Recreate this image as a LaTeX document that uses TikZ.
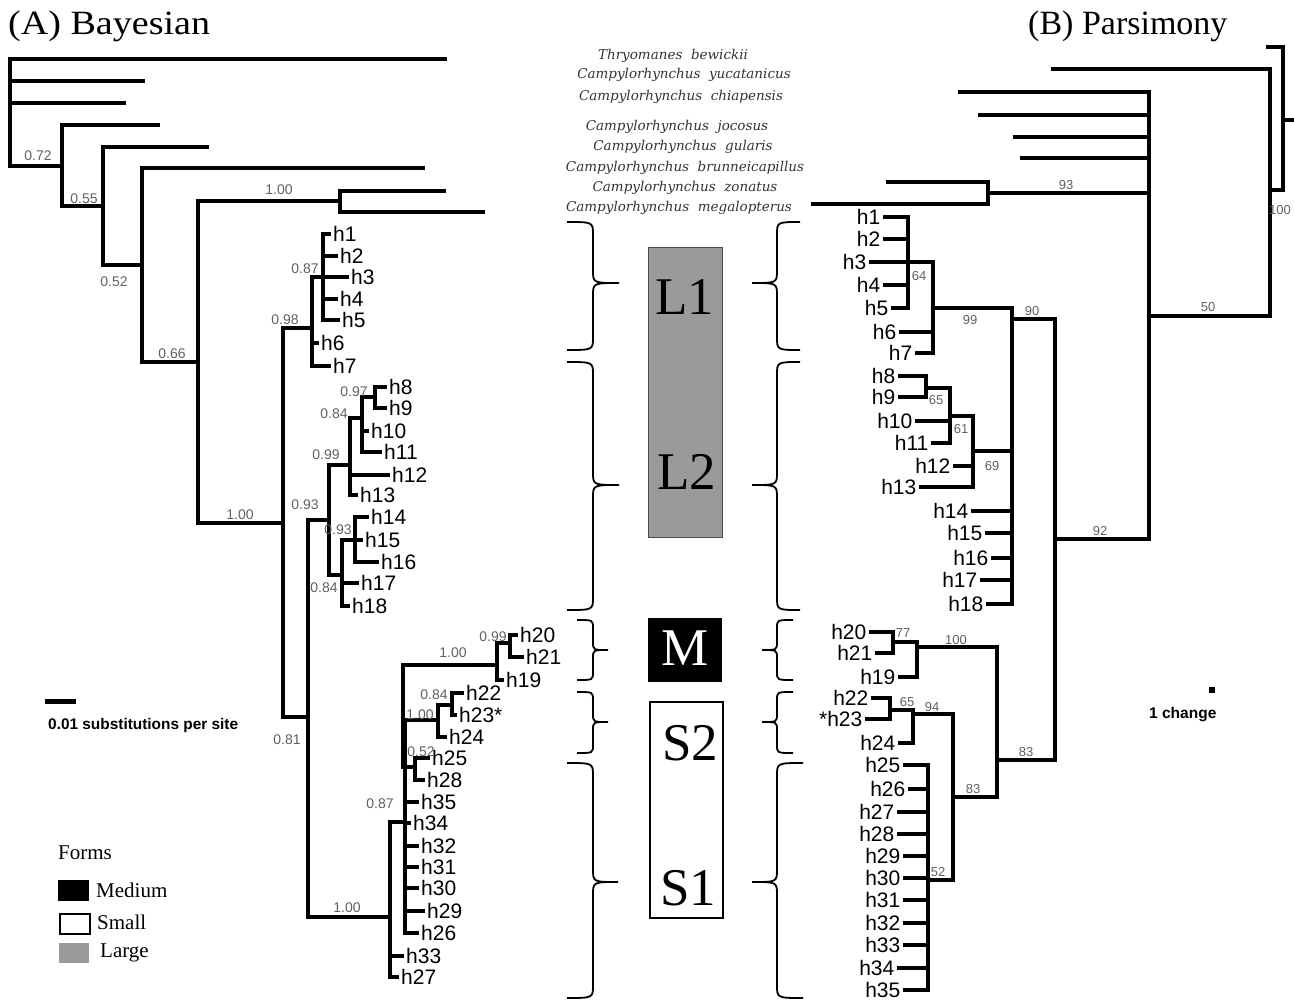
\documentclass[tikz,border=0pt]{standalone}
\usepackage{fontspec}
\setmainfont{Liberation Serif}
\setsansfont{Liberation Sans}
\newfontfamily\spfont{DejaVu Serif}
\definecolor{supgray}{HTML}{606060}
\definecolor{boxgray}{HTML}{9A9A9A}
\definecolor{spgray}{HTML}{333333}
\newcommand{\mybrace}[7]{%
  \draw[bracestyle] (#1,#4) .. controls (#2,#4) .. (#2,{#4+#7}) -- (#2,{#5-#7})
    .. controls (#2,#5) .. (#3,#5) .. controls (#2,#5) .. (#2,{#5+#7})
    -- (#2,{#6-#7}) .. controls (#2,#6) .. (#1,#6);}
\begin{document}
\begin{tikzpicture}[x=1pt,y=-1pt,
  tree/.style={line width=3.4pt, line cap=rect},
  leafA/.style={anchor=west, font=\sffamily\fontsize{21}{21}\selectfont, inner xsep=4pt, inner ysep=0pt},
  leafB/.style={anchor=east, font=\sffamily\fontsize{21}{21}\selectfont, inner xsep=4.5pt, inner ysep=0pt},
  supA/.style={font=\sffamily\fontsize{14}{14}\selectfont, text=supgray, inner sep=0pt},
  supB/.style={font=\sffamily\fontsize{13}{13}\selectfont, text=supgray, inner sep=0pt},
  species/.style={font=\spfont\itshape\fontsize{13.5}{14}\selectfont, text=spgray, inner sep=0pt},
  bigletter/.style={font=\fontsize{53}{53}\selectfont, inner sep=0pt},
  bracestyle/.style={line width=1.8pt},
  legtext/.style={font=\fontsize{21}{21}\selectfont, anchor=west, inner sep=0pt}]
\useasboundingbox (0,0) rectangle (1294,1001);

% titles
\node[anchor=west, font=\fontsize{34}{34}\selectfont, inner sep=0pt] (titleA) at (8,26) {\scalebox{1.12}[1]{(A) Bayesian}};
\node[anchor=west, font=\fontsize{34}{34}\selectfont, inner sep=0pt] (titleB) at (1028,26) {(B) Parsimony};

% ================= LEFT TREE =================
\coordinate (aR) at (10,166);
\coordinate (aT1) at (445,59);
\coordinate (aT2) at (143,81);
\coordinate (aT3) at (124,103);
\coordinate (a72) at (62,166);
\coordinate (aT4) at (158,125);
\coordinate (a55) at (103,206);
\coordinate (aT5) at (207,147);
\coordinate (a52) at (142,265);
\coordinate (aT6) at (423,168);
\coordinate (a66) at (198,362);
\coordinate (aC) at (340,201);
\coordinate (aT7) at (444,191);
\coordinate (aT8) at (483,212);
\coordinate (aI) at (283,523);
\coordinate (a98) at (312,328);
\coordinate (a87) at (323,277);
\coordinate (a81) at (308,717);
\coordinate (a93) at (329,520);
\coordinate (a99) at (350,465);
\coordinate (a84) at (362,418);
\coordinate (a97) at (375,397);
\coordinate (a84b) at (342,575);
\coordinate (a93b) at (355,540);
\coordinate (aMS) at (390,917);
\coordinate (a87s) at (405,822);
\coordinate (a100s) at (403,720);
\coordinate (aM) at (497,665);
\coordinate (a99m) at (510,643);
\coordinate (aS2) at (438,720);
\coordinate (a84s) at (452,705);
\coordinate (a52s) at (415,767);

\node[leafA] (a-h1) at (329,234) {h1};
\node[leafA] (a-h2) at (336,256) {h2};
\node[leafA] (a-h3) at (347,277) {h3};
\node[leafA] (a-h4) at (336,299) {h4};
\node[leafA] (a-h5) at (338,320) {h5};
\node[leafA] (a-h6) at (317,343) {h6};
\node[leafA] (a-h7) at (329,366) {h7};
\node[leafA] (a-h8) at (385,387) {h8};
\node[leafA] (a-h9) at (385,408) {h9};
\node[leafA] (a-h10) at (367,431) {h10};
\node[leafA] (a-h11) at (380,452) {h11};
\node[leafA] (a-h12) at (388,475) {h12};
\node[leafA] (a-h13) at (356,495) {h13};
\node[leafA] (a-h14) at (367,517) {h14};
\node[leafA] (a-h15) at (361,540) {h15};
\node[leafA] (a-h16) at (377,562) {h16};
\node[leafA] (a-h17) at (357,583) {h17};
\node[leafA] (a-h18) at (348,606) {h18};
\node[leafA] (a-h20) at (516,635) {h20};
\node[leafA] (a-h21) at (522,657) {h21};
\node[leafA] (a-h19) at (502,680) {h19};
\node[leafA] (a-h22) at (462,693) {h22};
\node[leafA] (a-h23) at (455,715) {h23*};
\node[leafA] (a-h24) at (445,737) {h24};
\node[leafA] (a-h25) at (428,758) {h25};
\node[leafA] (a-h28) at (423,780) {h28};
\node[leafA] (a-h35) at (417,802) {h35};
\node[leafA] (a-h34) at (409,823) {h34};
\node[leafA] (a-h32) at (417,846) {h32};
\node[leafA] (a-h31) at (417,867) {h31};
\node[leafA] (a-h30) at (417,888) {h30};
\node[leafA] (a-h29) at (423,911) {h29};
\node[leafA] (a-h26) at (417,933) {h26};
\node[leafA] (a-h33) at (402,956) {h33};
\node[leafA] (a-h27) at (397,977) {h27};

\foreach \p/\c in {aR/aT1, aR/aT2, aR/aT3, aR/a72, a72/aT4, a72/a55, a55/aT5, a55/a52,
  a52/aT6, a52/a66, a66/aC, a66/aI, aC/aT7, aC/aT8, aI/a98, aI/a81,
  a98/a87, a98/a-h6.west, a98/a-h7.west,
  a87/a-h1.west, a87/a-h2.west, a87/a-h3.west, a87/a-h4.west, a87/a-h5.west,
  a81/a93, a81/aMS, a93/a99, a93/a84b,
  a99/a84, a99/a-h12.west, a99/a-h13.west,
  a84/a97, a84/a-h10.west, a84/a-h11.west,
  a97/a-h8.west, a97/a-h9.west,
  a84b/a93b, a84b/a-h17.west, a84b/a-h18.west,
  a93b/a-h14.west, a93b/a-h15.west, a93b/a-h16.west,
  aMS/a87s, aMS/a-h33.west, aMS/a-h27.west,
  a87s/a100s, a100s/aM, a100s/aS2, a100s/a52s, a87s/a52s, a87s/a-h35.west, a87s/a-h34.west, a87s/a-h32.west,
  a87s/a-h31.west, a87s/a-h30.west, a87s/a-h29.west, a87s/a-h26.west,
  aM/a99m, aM/a-h19.west, a99m/a-h20.west, a99m/a-h21.west,
  aS2/a84s, aS2/a-h24.west, a84s/a-h22.west, a84s/a-h23.west,
  a52s/a-h25.west, a52s/a-h28.west}
  \draw[tree] (\p) |- (\c);

% left support values
\node[supA] (sa1) at (38,156) {0.72};
\node[supA] (sa2) at (84,199) {0.55};
\node[supA] (sa3) at (114,282) {0.52};
\node[supA] (sa4) at (172,354) {0.66};
\node[supA] (sa5) at (279,190) {1.00};
\node[supA] (sa6) at (240,515) {1.00};
\node[supA] (sa7) at (285,320) {0.98};
\node[supA] (sa8) at (305,269) {0.87};
\node[supA] (sa9) at (305,505) {0.93};
\node[supA] (sa10) at (326,455) {0.99};
\node[supA] (sa11) at (334,414) {0.84};
\node[supA] (sa12) at (354,392) {0.97};
\node[supA] (sa13) at (338,530) {0.93};
\node[supA] (sa14) at (324,588) {0.84};
\node[supA] (sa15) at (287,740) {0.81};
\node[supA] (sa16) at (347,908) {1.00};
\node[supA] (sa17) at (380,804) {0.87};
\node[supA] (sa18) at (453,653) {1.00};
\node[supA] (sa19) at (493,637) {0.99};
\node[supA] (sa20) at (420,715) {1.00};
\node[supA] (sa21) at (434,695) {0.84};
\node[supA] (sa22) at (421,752) {0.52};

% scale bar left
\coordinate (sbA1) at (45,701);
\coordinate (sbA2) at (76,701);
\draw[line width=5pt] (sbA1) -- (sbA2);
\node[anchor=west, font=\sffamily\bfseries\fontsize{15.4}{15.4}\selectfont, inner sep=0pt] (sbAtext) at (48,726) {0.01 substitutions per site};

% legend
\node[legtext] (legtitle) at (58,853) {Forms};
\node[draw=black, fill=black, minimum width=30pt, minimum height=20pt, inner sep=0pt, anchor=north west] (legM) at (58,880) {};
\node[draw=black, line width=1.6pt, fill=white, minimum width=30pt, minimum height=20pt, inner sep=0pt, anchor=north west] (legS) at (59,913) {};
\node[fill=boxgray, minimum width=30pt, minimum height=20pt, inner sep=0pt, anchor=north west] (legL) at (59,943) {};
\node[legtext] (legMt) at (96,890) {Medium};
\node[legtext] (legSt) at (97,922) {Small};
\node[legtext] (legLt) at (100,953) {Large};

% ================= MIDDLE =================
\node[species] (sp1) at (673,56) {Thryomanes\ \ bewickii};
\node[species] (sp2) at (684,75) {Campylorhynchus\ \ yucatanicus};
\node[species] (sp3) at (681,97) {Campylorhynchus\ \ chiapensis};
\node[species] (sp4) at (677,127) {Campylorhynchus\ \ jocosus};
\node[species] (sp5) at (683,147) {Campylorhynchus\ \ gularis};
\node[species] (sp6) at (685,168) {Campylorhynchus\ \ brunneicapillus};
\node[species] (sp7) at (685,188) {Campylorhynchus\ \ zonatus};
\node[species] (sp8) at (679,208) {Campylorhynchus\ \ megalopterus};

\node[draw=black!70, line width=0.8pt, fill=boxgray, minimum width=74pt, minimum height=290pt, inner sep=0pt] (boxL) at (685,392) {};
\node[fill=black, minimum width=74pt, minimum height=64pt, inner sep=0pt] (boxM) at (685,650) {};
\node[draw=black, line width=1.2pt, fill=white, minimum width=73pt, minimum height=216pt, inner sep=0pt] (boxS) at (686.5,810) {};
\node[bigletter] (tL1) at (685,297) {L1};
\node[bigletter] (tL2) at (687,472) {L2};
\node[bigletter, text=white] (tM) at (685,648) {M};
\node[bigletter] (tS2) at (690,743) {S2};
\node[bigletter] (tS1) at (688,888) {S1};

% braces left (})
\mybrace{567}{593}{619}{222}{283}{350}{13}
\mybrace{567}{593}{619}{362}{485}{610}{13}
\mybrace{577}{593}{608}{620}{650}{680}{8}
\mybrace{577}{593}{608}{692}{722}{753}{8}
\mybrace{567}{593}{618}{763}{882}{998}{13}
% braces right ({)
\mybrace{800}{777}{752}{222}{283}{350}{13}
\mybrace{800}{777}{752}{362}{485}{610}{13}
\mybrace{793}{777}{762}{620}{650}{680}{8}
\mybrace{793}{777}{762}{692}{722}{753}{8}
\mybrace{803}{777}{752}{763}{882}{998}{13}

% ================= RIGHT TREE =================
\coordinate (bRt) at (1283,120);
\coordinate (bStub) at (1294,120);
\coordinate (bT0) at (1268,47);
\coordinate (b100) at (1270,190);
\coordinate (bT1) at (1053,69);
\coordinate (b50) at (1149,316);
\coordinate (bT2) at (960,92);
\coordinate (bT3) at (980,115);
\coordinate (bT4) at (1015,137);
\coordinate (bT5) at (1022,158);
\coordinate (b93) at (988,193);
\coordinate (bT6) at (888,182);
\coordinate (bT7) at (813,204);
\coordinate (b92) at (1055,539);
\coordinate (b90) at (1012,319);
\coordinate (b99) at (933,308);
\coordinate (b64) at (908,262);
\coordinate (b69) at (973,451);
\coordinate (b61) at (950,416);
\coordinate (b65) at (926,388);
\coordinate (b83a) at (997,760);
\coordinate (b100b) at (917,647);
\coordinate (b77) at (893,642);
\coordinate (b83b) at (953,797);
\coordinate (b94) at (913,714);
\coordinate (b65b) at (890,710);
\coordinate (b52) at (928,880);

\node[leafB] (b-h1) at (885,217) {h1};
\node[leafB] (b-h2) at (885,239) {h2};
\node[leafB] (b-h3) at (871,262) {h3};
\node[leafB] (b-h4) at (885,285) {h4};
\node[leafB] (b-h5) at (893,308) {h5};
\node[leafB] (b-h6) at (901,332) {h6};
\node[leafB] (b-h7) at (917,353) {h7};
\node[leafB] (b-h8) at (900,376) {h8};
\node[leafB] (b-h9) at (900,397) {h9};
\node[leafB] (b-h10) at (917,421) {h10};
\node[leafB] (b-h11) at (933,443) {h11};
\node[leafB] (b-h12) at (955,466) {h12};
\node[leafB] (b-h13) at (921,487) {h13};
\node[leafB] (b-h14) at (973,511) {h14};
\node[leafB] (b-h15) at (987,533) {h15};
\node[leafB] (b-h16) at (993,558) {h16};
\node[leafB] (b-h17) at (982,580) {h17};
\node[leafB] (b-h18) at (988,604) {h18};
\node[leafB] (b-h20) at (871,632) {h20};
\node[leafB] (b-h21) at (877,653) {h21};
\node[leafB] (b-h19) at (900,677) {h19};
\node[leafB] (b-h22) at (873,698) {h22};
\node[leafB] (b-h23) at (867,719) {*h23};
\node[leafB] (b-h24) at (900,743) {h24};
\node[leafB] (b-h25) at (905,765) {h25};
\node[leafB] (b-h26) at (910,789) {h26};
\node[leafB] (b-h27) at (899,812) {h27};
\node[leafB] (b-h28) at (899,834) {h28};
\node[leafB] (b-h29) at (905,856) {h29};
\node[leafB] (b-h30) at (905,878) {h30};
\node[leafB] (b-h31) at (905,900) {h31};
\node[leafB] (b-h32) at (905,923) {h32};
\node[leafB] (b-h33) at (905,945) {h33};
\node[leafB] (b-h34) at (899,968) {h34};
\node[leafB] (b-h35) at (905,990) {h35};

\draw[tree] (bRt) -- (bStub);
\foreach \p/\c in {bRt/bT0, bRt/b100, b100/bT1, b100/b50,
  b50/bT2, b50/bT3, b50/bT4, b50/bT5, b50/b93, b50/b92, b93/bT6, b93/bT7,
  b92/b90, b92/b83a,
  b90/b99, b90/b69, b90/b-h14.east, b90/b-h15.east, b90/b-h16.east, b90/b-h17.east, b90/b-h18.east,
  b99/b64, b99/b-h6.east, b99/b-h7.east,
  b64/b-h1.east, b64/b-h2.east, b64/b-h3.east, b64/b-h4.east, b64/b-h5.east,
  b69/b61, b69/b-h12.east, b69/b-h13.east,
  b61/b65, b61/b-h10.east, b61/b-h11.east,
  b65/b-h8.east, b65/b-h9.east,
  b83a/b100b, b83a/b83b, b100b/b77, b100b/b-h19.east, b77/b-h20.east, b77/b-h21.east,
  b83b/b94, b83b/b52, b94/b65b, b94/b-h24.east, b65b/b-h22.east, b65b/b-h23.east,
  b52/b-h25.east, b52/b-h26.east, b52/b-h27.east, b52/b-h28.east, b52/b-h29.east, b52/b-h30.east,
  b52/b-h31.east, b52/b-h32.east, b52/b-h33.east, b52/b-h34.east, b52/b-h35.east}
  \draw[tree] (\p) |- (\c);

% right support values
\node[supB] (sb1) at (1066,185) {93};
\node[supB] (sb2) at (1280,210) {100};
\node[supB] (sb3) at (1208,307) {50};
\node[supB] (sb4) at (1100,531) {92};
\node[supB] (sb5) at (1032,311) {90};
\node[supB] (sb6) at (970,320) {99};
\node[supB] (sb7) at (919,276) {64};
\node[supB] (sb8) at (992,466) {69};
\node[supB] (sb9) at (961,429) {61};
\node[supB] (sb10) at (936,400) {65};
\node[supB] (sb11) at (956,640) {100};
\node[supB] (sb12) at (903,633) {77};
\node[supB] (sb13) at (1026,752) {83};
\node[supB] (sb14) at (973,789) {83};
\node[supB] (sb15) at (907,702) {65};
\node[supB] (sb16) at (932,707) {94};
\node[supB] (sb17) at (938,872) {52};

% scale bar right
\node[fill=black, minimum size=6pt, inner sep=0pt] (sbB) at (1212,690) {};
\node[anchor=west, font=\sffamily\bfseries\fontsize{15.5}{15.5}\selectfont, inner sep=0pt] (sbBtext) at (1149,715) {1 change};
\end{tikzpicture}
\end{document}
